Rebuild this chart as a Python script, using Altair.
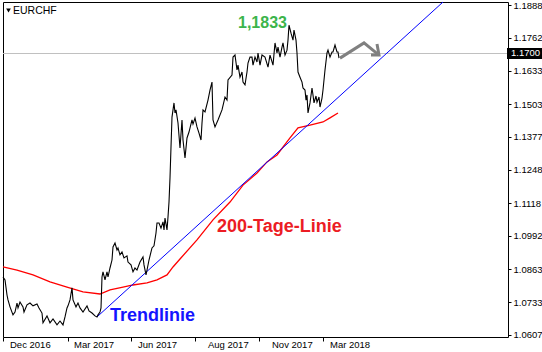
import altair as alt
import pandas as pd

# --- data (bar index, price) ---
price_t = [0, 2, 4, 5, 7, 10, 12, 14, 15, 17, 20, 21, 24, 27, 30, 34, 36, 39, 40, 44,
           47, 50, 54, 57, 60, 62, 64, 65, 67, 69, 70, 73, 75, 77, 80, 84, 86, 89, 92, 94,
           95, 97, 98, 99, 100, 102, 104, 105, 107, 109, 110, 112, 114, 115, 117, 119, 121, 124, 125, 128,
           130, 132, 134, 137, 140, 141, 143, 144, 146, 149, 151, 153, 154, 156, 158, 160, 161, 162, 164, 165,
           166, 167, 168, 169, 171, 172, 173, 175, 177, 179, 180, 182, 184, 186, 189, 190, 192, 194, 196, 198,
           199, 200, 202, 205, 207, 209, 210, 212, 215, 219, 222, 224, 225, 229, 230, 232, 234, 235, 237, 239,
           240, 242, 244, 245, 247, 249, 250, 252, 254, 255, 257, 259, 262, 265, 267, 270, 272, 274, 275, 277,
           279, 280, 282, 284, 285, 286, 288, 290, 291, 293, 294, 295, 297, 299, 300, 302, 303, 304, 305, 307,
           309, 310, 311, 313, 314, 316, 317, 319, 320, 322, 324, 325, 327, 329, 330, 332, 334, 335, 336]
price_v = [1.0832, 1.0821, 1.0762, 1.0743, 1.0716, 1.0685, 1.0696, 1.0731, 1.0712, 1.0735,
           1.0716, 1.0696, 1.0724, 1.0731, 1.0720, 1.0727, 1.0712, 1.0692, 1.0654, 1.0681,
           1.0654, 1.0669, 1.0646, 1.0661, 1.0646, 1.0677, 1.0712, 1.0720, 1.0743, 1.0790,
           1.0743, 1.0716, 1.0731, 1.0712, 1.0696, 1.0720, 1.0700, 1.0692, 1.0681, 1.0677,
           1.0685, 1.0696, 1.0712, 1.0832, 1.0852, 1.0821, 1.0852, 1.0832, 1.0867, 1.0898,
           1.0949, 1.0964, 1.0937, 1.0945, 1.0918, 1.0929, 1.0906, 1.0914, 1.0890, 1.0879,
           1.0852, 1.0867, 1.0859, 1.0890, 1.0910, 1.0879, 1.0840, 1.0859, 1.0898, 1.0945,
           1.0953, 1.1003, 1.1042, 1.1042, 1.1022, 1.1046, 1.1015, 1.1061, 1.1015, 1.1065,
           1.1123, 1.1217, 1.1337, 1.1453, 1.1508, 1.1469, 1.1481, 1.1430, 1.1333, 1.1442,
           1.1364, 1.1294, 1.1372, 1.1395, 1.1442, 1.1426, 1.1449, 1.1415, 1.1391, 1.1364,
           1.1430, 1.1481, 1.1473, 1.1519, 1.1558, 1.1589, 1.1442, 1.1415, 1.1442, 1.1481,
           1.1531, 1.1519, 1.1597, 1.1616, 1.1686, 1.1694, 1.1636, 1.1655, 1.1608, 1.1628,
           1.1589, 1.1578, 1.1628, 1.1663, 1.1686, 1.1686, 1.1655, 1.1686, 1.1667, 1.1702,
           1.1655, 1.1694, 1.1686, 1.1647, 1.1694, 1.1655, 1.1741, 1.1702, 1.1725, 1.1686,
           1.1725, 1.1741, 1.1694, 1.1713, 1.1752, 1.1810, 1.1779, 1.1752, 1.1791, 1.1752,
           1.1702, 1.1628, 1.1608, 1.1589, 1.1566, 1.1558, 1.1519, 1.1539, 1.1469, 1.1508,
           1.1566, 1.1539, 1.1508, 1.1535, 1.1511, 1.1531, 1.1492, 1.1527, 1.1558, 1.1636,
           1.1702, 1.1713, 1.1686, 1.1706, 1.1706, 1.1733, 1.1706, 1.1706, 1.1682]

ma_t = [0, 14, 30, 47, 64, 80, 97, 107, 120, 130, 144, 154, 164, 170, 177, 194, 210, 227,
        240, 254, 264, 274, 287, 295, 307, 320, 327, 335]
ma_v = [1.0871, 1.0859, 1.0840, 1.0813, 1.0793, 1.0774, 1.0766, 1.0782, 1.0793, 1.0801,
        1.0809, 1.0821, 1.0840, 1.0871, 1.0902, 1.0976, 1.1054, 1.1123, 1.1189, 1.1236,
        1.1279, 1.1306, 1.1372, 1.1411, 1.1422, 1.1434, 1.1450, 1.1469]

trend_t = [94, 440]
trend_v = [1.0677, 1.1900]

arrow_t = [337, 361, 376, 374, 376, 368]
arrow_v = [1.1682, 1.1741, 1.1694, 1.1737, 1.1694, 1.1694]
arrow_seg = ["shaft", "shaft", "shaft", "head", "head", "head"]
arrow_ord = [0, 1, 2, 0, 1, 2]

current_price = 1.1700
y_ticks = [1.1888, 1.1762, 1.1633, 1.1503, 1.1377, 1.1248, 1.1118, 1.0992, 1.0863, 1.0733, 1.0607]
x_tick_t = [0, 65, 128, 192, 256, 320]
x_label_t = [7, 71, 135, 205, 269, 327]
x_labels = ["Dec 2016", "Mar 2017", "Jun 2017", "Aug 2017", "Nov 2017", "Mar 2018"]

notes_text = ["1,1833", "200-Tage-Linie", "Trendlinie"]
notes_t = [235, 214, 107]
notes_v = [1.1799, 1.1007, 1.0661]
notes_color = ["#3cb44b", "#ec1c24", "#1414ff"]
notes_size = [16, 18, 18]

FONT = "Liberation Sans"

price_df = pd.DataFrame({"t": price_t, "v": price_v})
ma_df = pd.DataFrame({"t": ma_t, "v": ma_v})
trend_df = pd.DataFrame({"t": trend_t, "v": trend_v})
arrow_df = pd.DataFrame({"t": arrow_t, "v": arrow_v, "seg": arrow_seg, "o": arrow_ord})
xlab_df = pd.DataFrame({"t": x_label_t, "label": x_labels})
cur_df = pd.DataFrame({"v": [current_price], "txt": [f"{current_price:.4f}"]})
one_df = pd.DataFrame({"a": [0]})

xs = alt.Scale(domain=[0, 505], nice=False, zero=False)
ys = alt.Scale(domain=[1.0599, 1.1900], nice=False, zero=False)

x_axis = alt.Axis(values=x_tick_t, labels=False, ticks=True, tickSize=4,
                  tickColor="black", domain=False, grid=False, title=None)
y_axis = alt.Axis(orient="right", values=y_ticks, format=".4f", tickSize=3,
                  tickColor="black", domain=False, grid=False, title=None,
                  labelFont=FONT, labelFontSize=9.5, labelColor="black",
                  labelPadding=2, labelOverlap=False, labelFlush=False)

X = alt.X("t:Q", scale=xs, axis=x_axis)
Y = alt.Y("v:Q", scale=ys, axis=y_axis)

hline = alt.Chart(cur_df).mark_rule(color="#c0c0c0", strokeWidth=1).encode(y=Y)

ma_line = alt.Chart(ma_df).mark_line(color="#ff0000", strokeWidth=1.3).encode(x=X, y=Y)
trend_line = alt.Chart(trend_df).mark_line(color="#0000ff", strokeWidth=1).encode(x=X, y=Y)
price_line = alt.Chart(price_df).mark_line(color="black", strokeWidth=1.1).encode(x=X, y=Y)

arrow = alt.Chart(arrow_df).mark_line(color="#808080", strokeWidth=3).encode(
    x=X, y=Y, detail="seg:N", order="o:Q"
)

notes = []
for txt, t, v, c, s in zip(notes_text, notes_t, notes_v, notes_color, notes_size):
    notes.append(
        alt.Chart(pd.DataFrame({"t": [t], "v": [v], "txt": [txt]})).mark_text(
            font=FONT, fontWeight="bold", fontSize=s, color=c,
            align="left", baseline="alphabetic"
        ).encode(x=X, y=Y, text="txt:N")
    )

xlabels = alt.Chart(xlab_df).mark_text(
    font=FONT, fontSize=9.5, color="black", align="left", baseline="alphabetic"
).encode(x=X, y=alt.value(346), text="label:N")

box = alt.Chart(cur_df).mark_rule(color="black", strokeWidth=11).encode(
    y=Y, x=alt.value(504), x2=alt.value(545)
)
box_text = alt.Chart(cur_df).mark_text(
    font=FONT, fontSize=9.5, color="white", align="left", baseline="middle"
).encode(y=Y, x=alt.value(508), text="txt:N")

header_tri = alt.Chart(one_df).mark_point(
    shape="triangle-down", filled=True, color="black", size=22, opacity=1
).encode(x=alt.value(5.5), y=alt.value(8.5))
header_txt = alt.Chart(one_df).mark_text(
    font=FONT, fontSize=10.5, color="black", align="left", baseline="alphabetic"
).encode(x=alt.value(10), y=alt.value(12), text=alt.value("EURCHF"))

chart = alt.layer(
    hline, ma_line, trend_line, price_line, arrow, *notes, xlabels, box, box_text,
    header_tri, header_txt
).properties(
    width=505, height=335,
    padding={"left": 3, "top": 2, "right": 34, "bottom": 15},
    autosize=alt.AutoSizeParams(type="none"),
    background="white",
).configure_view(stroke="black", strokeWidth=1)

chart.save("out.html", embed_options={"renderer": "svg", "actions": False})
